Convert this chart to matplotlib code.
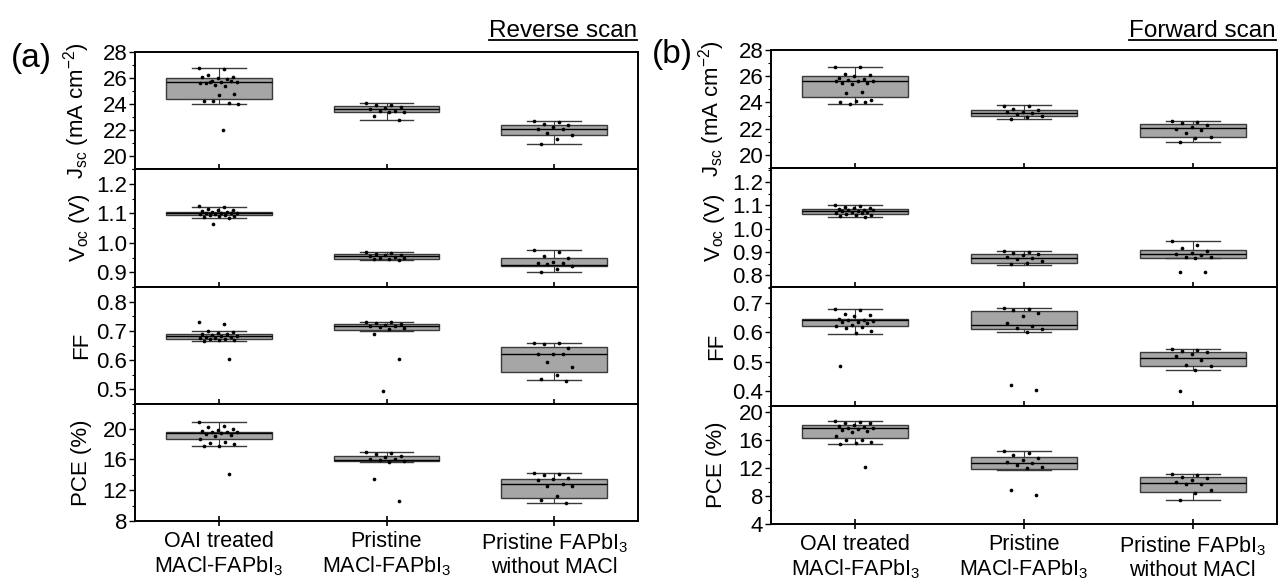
import matplotlib
matplotlib.use("Agg")
import matplotlib.pyplot as plt  # noqa: E402
from matplotlib.lines import Line2D  # noqa: E402
from matplotlib.ticker import AutoMinorLocator, MultipleLocator  # noqa: E402
from matplotlib.transforms import IdentityTransform  # noqa: E402

plt.rcParams["font.family"] = ["Liberation Sans", "DejaVu Sans"]
plt.rcParams["mathtext.fontset"] = "custom"
plt.rcParams["mathtext.rm"] = "Liberation Sans"
plt.rcParams["mathtext.it"] = "Liberation Sans:italic"
plt.rcParams["mathtext.bf"] = "Liberation Sans:bold"

GROUPS = ["OAI treated\nMACl-FAPbI$_3$", "Pristine\nMACl-FAPbI$_3$",
          "Pristine FAPbI$_3$\nwithout MACl"]
YLABELS = ["J$_{\\rm sc}$ (mA cm$^{-2}$)", "V$_{\\rm oc}$ (V)", "FF", "PCE (%)"]

# box stats per group: (q1, median, q3, whisker low, whisker high)
# ---- reverse scan ----
rev_jsc_pts = [
    [26.8, 26.7, 26.2, 26.1, 26.0, 26.1, 25.9, 25.8, 25.7, 25.7, 25.6, 25.8,
     25.5, 25.6, 25.4, 25.7, 24.8, 24.7, 24.2, 24.1, 24.2, 24.0, 22.0],
    [24.05, 23.95, 23.9, 23.8, 23.7, 23.6, 23.5, 23.45, 23.4, 23.35, 23.1, 22.8],
    [22.7, 22.65, 22.5, 22.4, 22.2, 22.1, 22.1, 21.75, 21.6, 21.3, 20.95],
]
rev_jsc_box = [(24.4, 25.7, 26.0, 24.0, 26.8), (23.4, 23.6, 23.85, 22.75, 24.05),
               (21.65, 22.1, 22.4, 20.95, 22.7)]
rev_voc_pts = [
    [1.125, 1.12, 1.115, 1.112, 1.11, 1.108, 1.105, 1.105, 1.102, 1.10, 1.10,
     1.10, 1.098, 1.097, 1.095, 1.095, 1.092, 1.09, 1.088, 1.085, 1.065],
    [0.968, 0.965, 0.962, 0.96, 0.958, 0.955, 0.953, 0.95, 0.948, 0.946, 0.944, 0.942],
    [0.975, 0.968, 0.955, 0.95, 0.935, 0.932, 0.93, 0.928, 0.92, 0.91, 0.90],
]
rev_voc_box = [(1.095, 1.10, 1.105, 1.085, 1.12), (0.945, 0.955, 0.962, 0.94, 0.97),
               (0.92, 0.925, 0.95, 0.90, 0.975)]
rev_ff_pts = [
    [0.73, 0.725, 0.70, 0.695, 0.692, 0.69, 0.688, 0.686, 0.684, 0.682, 0.68,
     0.678, 0.676, 0.675, 0.673, 0.672, 0.67, 0.668, 0.665, 0.605],
    [0.732, 0.73, 0.728, 0.725, 0.72, 0.718, 0.715, 0.712, 0.71, 0.706, 0.69, 0.605, 0.495],
    [0.66, 0.657, 0.655, 0.64, 0.62, 0.62, 0.62, 0.595, 0.575, 0.55, 0.535, 0.53],
]
rev_ff_box = [(0.673, 0.682, 0.690, 0.665, 0.698), (0.703, 0.715, 0.722, 0.70, 0.73),
              (0.56, 0.62, 0.645, 0.533, 0.66)]
rev_pce_pts = [
    [20.9, 20.3, 20.2, 20.0, 19.8, 19.7, 19.6, 19.5, 19.5, 19.4, 19.3, 19.2,
     19.0, 18.7, 18.3, 18.1, 18.0, 17.8, 17.7, 14.1],
    [16.9, 16.8, 16.7, 16.5, 16.3, 16.1, 16.0, 15.9, 15.8, 15.7, 13.4, 10.6],
    [14.2, 14.1, 14.0, 13.6, 13.4, 13.3, 12.8, 12.6, 12.5, 11.3, 10.7, 10.4],
]
rev_pce_box = [(18.7, 19.4, 19.6, 17.8, 20.9), (15.75, 15.9, 16.5, 15.7, 16.9),
               (11.0, 12.8, 13.4, 10.4, 14.2)]

# ---- forward scan ----
fwd_jsc_pts = [
    [26.7, 26.7, 26.2, 26.1, 26.0, 25.9, 25.8, 25.7, 25.6, 25.6, 25.5, 25.5,
     25.4, 25.6, 24.8, 24.7, 24.2, 24.1, 24.0, 24.0, 23.9],
    [23.75, 23.7, 23.5, 23.4, 23.3, 23.25, 23.2, 23.1, 23.0, 22.9, 22.7],
    [22.6, 22.5, 22.4, 22.3, 22.1, 22.0, 21.9, 21.7, 21.4, 21.3, 20.95],
]
fwd_jsc_box = [(24.4, 25.6, 26.0, 23.9, 26.7), (22.95, 23.2, 23.45, 22.7, 23.8),
               (21.4, 22.05, 22.35, 20.95, 22.6)]
fwd_voc_pts = [
    [1.10, 1.095, 1.092, 1.09, 1.088, 1.085, 1.082, 1.08, 1.078, 1.075, 1.075,
     1.072, 1.07, 1.068, 1.065, 1.063, 1.06, 1.058, 1.055, 1.05],
    [0.905, 0.90, 0.895, 0.89, 0.885, 0.88, 0.875, 0.87, 0.86, 0.855, 0.848],
    [0.945, 0.93, 0.915, 0.905, 0.895, 0.89, 0.885, 0.88, 0.878, 0.875, 0.815, 0.815],
]
fwd_voc_box = [(1.063, 1.075, 1.085, 1.05, 1.10), (0.855, 0.875, 0.89, 0.845, 0.905),
               (0.875, 0.89, 0.91, 0.875, 0.945)]
fwd_ff_pts = [
    [0.678, 0.675, 0.66, 0.658, 0.655, 0.645, 0.642, 0.64, 0.638, 0.635, 0.633,
     0.63, 0.625, 0.62, 0.618, 0.615, 0.605, 0.597, 0.487],
    [0.683, 0.68, 0.675, 0.665, 0.655, 0.63, 0.62, 0.615, 0.61, 0.60, 0.42, 0.405],
    [0.543, 0.54, 0.537, 0.533, 0.525, 0.52, 0.507, 0.49, 0.485, 0.473, 0.40],
]
fwd_ff_box = [(0.622, 0.64, 0.645, 0.595, 0.678), (0.61, 0.625, 0.672, 0.60, 0.683),
              (0.485, 0.513, 0.533, 0.473, 0.543)]
fwd_pce_pts = [
    [18.8, 18.6, 18.5, 18.4, 18.2, 18.0, 17.9, 17.8, 17.7, 17.6, 17.5, 17.3,
     17.2, 16.6, 16.1, 16.0, 15.7, 15.6, 15.5, 12.1],
    [14.5, 14.2, 13.9, 13.5, 13.1, 12.9, 12.7, 12.4, 12.2, 12.0, 8.8, 8.2],
    [11.2, 11.0, 10.8, 10.6, 10.3, 10.0, 9.8, 9.7, 8.8, 8.5, 7.5],
]
fwd_pce_box = [(16.3, 17.8, 18.2, 15.5, 18.8), (11.9, 12.8, 13.6, 11.8, 14.5),
               (8.6, 9.9, 10.8, 7.5, 11.2)]

# axis ranges / major tick step per row
rev_ylims = [(19, 28), (0.85, 1.25), (0.45, 0.85), (8, 23.2)]
fwd_ylims = [(19, 28), (0.75, 1.26), (0.35, 0.753), (4, 20.9)]
rev_steps = [2, 0.1, 0.1, 4]
fwd_steps = [2, 0.1, 0.1, 4]

BOX_FACE = "#a6a6a6"
BOX_EDGE = "#3a3a3a"
W, H = 1279, 581


def jitter(i):
    # deterministic spread of dots around the group centre
    return ((i * 0.618034) % 1.0 - 0.5) * 0.24


def draw_row(ax, pts, box):
    stats = [dict(q1=b[0], med=b[1], q3=b[2], whislo=b[3], whishi=b[4], fliers=[])
             for b in box]
    ax.bxp(stats, positions=[1, 2, 3], widths=0.63, capwidths=0.32,
           patch_artist=True, showfliers=False,
           boxprops=dict(facecolor=BOX_FACE, edgecolor=BOX_EDGE, linewidth=1.0),
           medianprops=dict(color="black", linewidth=1.0),
           whiskerprops=dict(color=BOX_EDGE, linewidth=0.8),
           capprops=dict(color=BOX_EDGE, linewidth=1.0))
    for g, vals in enumerate(pts):
        xs = [g + 1 + jitter(i) for i in range(len(vals))]
        ax.scatter(xs, vals, s=7, c="black", linewidths=0, zorder=4)


def draw_panel(fig, left, right, rows, pts_list, box_list, ylims, steps):
    axes = []
    for r in range(4):
        top, bot = rows[r], rows[r + 1]
        ax = fig.add_axes([left / W, 1 - bot / H, (right - left) / W, (bot - top) / H])
        draw_row(ax, pts_list[r], box_list[r])
        ax.set_xlim(0.5, 3.5)
        ax.set_ylim(*ylims[r])
        ax.yaxis.set_major_locator(MultipleLocator(steps[r]))
        ax.yaxis.set_minor_locator(AutoMinorLocator(2))
        ax.set_xticks([1, 2, 3])
        ax.tick_params(axis="x", direction="inout", length=7, width=1.2,
                       labelsize=15.5, labelbottom=(r == 3), pad=4)
        ax.tick_params(axis="y", which="major", direction="out", length=4,
                       width=1.0, labelsize=16, pad=1.5)
        ax.tick_params(axis="y", which="minor", direction="out", length=2, width=0.8)
        if r == 3:
            ax.set_xticklabels(GROUPS, linespacing=1.1)
        ax.set_ylabel(YLABELS[r], fontsize=16)
        # ylabel anchor is its right-hand edge once rotated
        ax.yaxis.set_label_coords(-0.086, 0.5)
        for s in ax.spines.values():
            s.set_linewidth(1.4)
        axes.append(ax)
    return axes


fig = plt.figure(figsize=(W / 100, H / 100), dpi=100)
draw_panel(fig, 135, 638, [52, 169, 287, 404, 521],
           [rev_jsc_pts, rev_voc_pts, rev_ff_pts, rev_pce_pts],
           [rev_jsc_box, rev_voc_box, rev_ff_box, rev_pce_box], rev_ylims, rev_steps)
draw_panel(fig, 771, 1277, [50, 168, 287, 406, 524],
           [fwd_jsc_pts, fwd_voc_pts, fwd_ff_pts, fwd_pce_pts],
           [fwd_jsc_box, fwd_voc_box, fwd_ff_box, fwd_pce_box], fwd_ylims, fwd_steps)

fig.text(11 / W, 1 - 58 / H, "(a)", fontsize=24, va="center", ha="left")
fig.text(652 / W, 1 - 54 / H, "(b)", fontsize=24, va="center", ha="left")
titles = [
    fig.text(637 / W, 1 - 37 / H, "Reverse scan", fontsize=17.5, ha="right", va="baseline"),
    fig.text(1276 / W, 1 - 37 / H, "Forward scan", fontsize=17.5, ha="right", va="baseline"),
]

# underline the scan titles
fig.canvas.draw()
for t in titles:
    bb = t.get_window_extent()
    y = H - 40
    fig.add_artist(Line2D([bb.x0, bb.x1], [y, y], transform=IdentityTransform(),
                          color="black", linewidth=1.3))

fig.savefig("out.png", dpi=100)
